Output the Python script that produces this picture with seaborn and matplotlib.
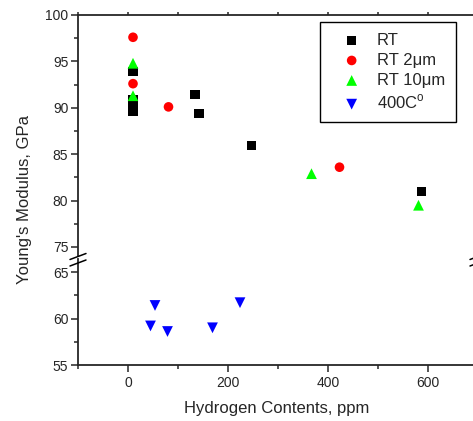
import numpy as np
import pandas as pd
import matplotlib
matplotlib.use('Agg')
import matplotlib.pyplot as plt
import seaborn as sns
from matplotlib.ticker import MultipleLocator
from matplotlib.lines import Line2D

sns.set_style('ticks')
plt.rcParams['font.family'] = ['Liberation Sans', 'DejaVu Sans']
plt.rcParams['mathtext.fontset'] = 'custom'
plt.rcParams['mathtext.rm'] = 'Liberation Sans'

# values (hydrogen ppm, modulus GPa)
rt_h = [10, 10, 10, 10, 134, 142, 247, 587]
rt_e = [93.9, 90.9, 90.2, 89.6, 91.4, 89.4, 85.9, 81.0]
rt2_h = [10, 10, 81, 423]
rt2_e = [97.6, 92.6, 90.1, 83.6]
rt10_h = [10, 10, 367, 581]
rt10_e = [94.8, 91.3, 82.9, 79.5]
c400_h = [45, 54, 79, 169, 224]
c400_e = [59.2, 61.4, 58.6, 59.0, 61.7]

names = ['RT', 'RT 2\u03bcm', 'RT 10\u03bcm', '400C$^\\mathrm{o}$']
series = [(rt_h, rt_e), (rt2_h, rt2_e), (rt10_h, rt10_e), (c400_h, c400_e)]
colors = ['black', '#ff0000', '#00ff00', '#0000ff']
markers = ['s', 'o', '^', 'v']
sizes = [42, 48, 60, 60]

W, H = 473, 421
fig = plt.figure(figsize=(W / 100, H / 100), dpi=100)

def fx(px):
    return px / W

def fy(py):
    return 1 - py / H

# broken y axis: two stacked axes
ax_top = fig.add_axes([fx(78), fy(256), fx(478) - fx(78), fy(15) - fy(256)])
ax_bot = fig.add_axes([fx(78), fy(365), fx(478) - fx(78), fy(259) - fy(365)])

for i, (h, e) in enumerate(series):
    df = pd.DataFrame({'h': h, 'e': e})
    sns.scatterplot(data=df, x='h', y='e', ax=ax_top, marker=markers[i], color=colors[i],
                    s=sizes[i], edgecolor='none', label=names[i])
    sns.scatterplot(data=df, x='h', y='e', ax=ax_bot, marker=markers[i], color=colors[i],
                    s=sizes[i], edgecolor='none', legend=False)

ax_top.set_xlim(-100, 700)
ax_bot.set_xlim(-100, 700)
ax_top.set_ylim(100 - (256 - 15) / 9.28, 100)
ax_bot.set_ylim(55, 55 + (365 - 259) / 9.3)

for ax in (ax_top, ax_bot):
    ax.set_xlabel('')
    ax.set_ylabel('')
    ax.xaxis.set_major_locator(MultipleLocator(200))
    ax.xaxis.set_minor_locator(MultipleLocator(100))
    ax.yaxis.set_major_locator(MultipleLocator(5))
    ax.yaxis.set_minor_locator(MultipleLocator(2.5))
    ax.tick_params(axis='y', which='major', direction='out', length=5, width=1.1,
                   labelsize=10, pad=2)
    ax.tick_params(axis='y', which='minor', direction='out', length=3, width=1.1)
    for sp in ax.spines.values():
        sp.set_linewidth(1.3)

ax_top.spines['bottom'].set_visible(False)
ax_top.tick_params(axis='x', which='both', bottom=False, labelbottom=False,
                   top=True, direction='out', length=2.5, width=1.1)
ax_bot.spines['top'].set_visible(False)
ax_bot.tick_params(axis='x', which='major', direction='out', length=5, width=1.1,
                   labelsize=10, pad=3)
ax_bot.tick_params(axis='x', which='minor', direction='out', length=3, width=1.1)

# break marks on both sides
for x0 in (70, 470):
    for y0 in (259.5, 266):
        fig.add_artist(Line2D([fx(x0), fx(x0 + 16)], [fy(y0), fy(y0 - 6)],
                              color='black', lw=1.1))

leg = ax_top.legend(loc='upper left', bbox_to_anchor=(fx(320), fy(22)),
                    bbox_transform=fig.transFigure, borderaxespad=0, fontsize=12,
                    frameon=True, fancybox=False, framealpha=1, edgecolor='black',
                    borderpad=0.65, handlelength=2.5, handletextpad=0.25,
                    labelspacing=0.3)
leg.get_frame().set_linewidth(1.0)

fig.text(fx(24), fy(200), "Young's Modulus, GPa", rotation=90, ha='center',
         va='center', fontsize=12)
fig.text(fx(277), fy(408), 'Hydrogen Contents, ppm', ha='center', va='center',
         fontsize=12)

fig.savefig('out.png', dpi=100)
